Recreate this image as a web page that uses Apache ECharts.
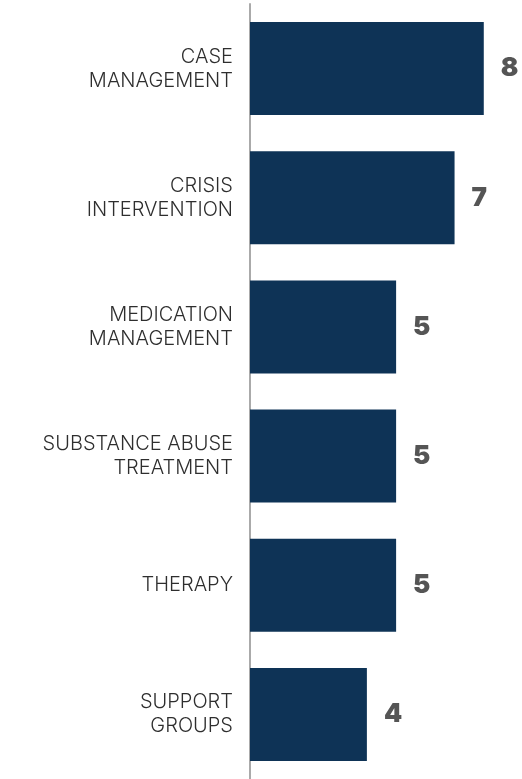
<!DOCTYPE html>
<html>
<head>
<meta charset="utf-8">
<script src="https://cdn.jsdelivr.net/npm/echarts@6/dist/echarts.min.js"></script>
<style>
  html, body { margin: 0; padding: 0; background: #fff; }
  #chart { width: 522px; height: 779px; }
</style>
</head>
<body>
<div id="chart"></div>
<script>
var categories = [
    'CASE\nMANAGEMENT',
    'CRISIS\nINTERVENTION',
    'MEDICATION\nMANAGEMENT',
    'SUBSTANCE ABUSE\nTREATMENT',
    'THERAPY',
    'SUPPORT\nGROUPS'
];
var values = [8, 7, 5, 5, 5, 4];

var myChart = echarts.init(document.getElementById('chart'));

var option = {
    animation: false,
    grid: {
        left: 250,
        right: 9,
        top: 4,
        bottom: -2,
        containLabel: false
    },
    xAxis: {
        type: 'value',
        min: 0,
        max: 9,
        show: false
    },
    yAxis: {
        type: 'category',
        inverse: true,
        data: categories,
        axisLine: {
            show: true,
            lineStyle: { color: '#aaaaaa', width: 2 }
        },
        axisTick: { show: false },
        axisLabel: {
            margin: 17,
            align: 'right',
            fontFamily: 'Inter',
            fontWeight: 300,
            fontSize: 20,
            lineHeight: 24,
            color: '#2e2e2e'
        }
    },
    series: [
        {
            type: 'bar',
            data: values,
            barCategoryGap: '28%',
            itemStyle: { color: '#0e3356' },
            label: {
                show: true,
                position: 'right',
                distance: 17,
                fontFamily: 'Inter',
                fontWeight: 900,
                fontSize: 26,
                color: '#555555'
            }
        }
    ]
};

myChart.setOption(option);
</script>
</body>
</html>
